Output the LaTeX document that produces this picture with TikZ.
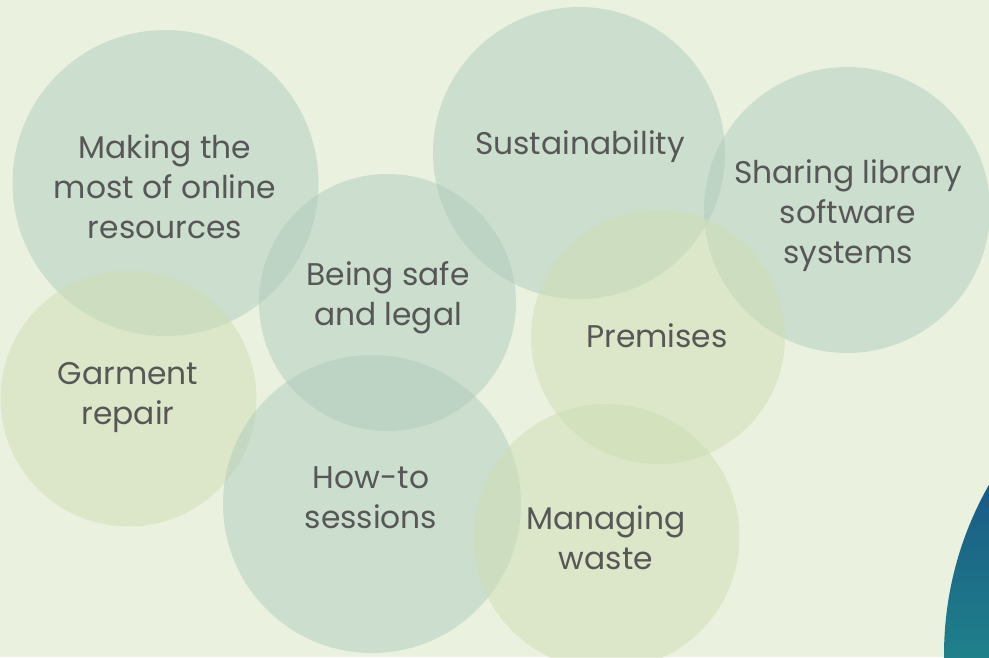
\documentclass[tikz,border=0pt]{standalone}
\usepackage{fontspec}
\setmainfont{Poppins}
\begin{document}
\begin{tikzpicture}[x=0.75pt,y=-0.75pt,
  bub/.style={circle,inner sep=0pt,outer sep=0pt,draw=none,fill opacity=0.5},
  grey/.style={bub,fill=bubgrey},
  yell/.style={bub,fill=bubyell},
  lbl/.style={text=txt,align=center,font=\fontsize{23.5}{30}\selectfont,inner sep=0pt}]
\definecolor{bg}{HTML}{EAF2DF}
\definecolor{bubgrey}{HTML}{B0CCBE}
\definecolor{bubyell}{HTML}{CEDDB3}
\definecolor{txt}{HTML}{575757}
\definecolor{tealtop}{HTML}{1A5986}
\definecolor{tealbot}{HTML}{1F818A}
\fill[bg] (0,0) rectangle (989,657);
\useasboundingbox (0,0) rectangle (989,657);
% circles
\node[grey,minimum size=306*0.75pt] (c1) at (165.5,183) {};
\node[grey,minimum size=292*0.75pt] (c3) at (579,153) {};
\node[grey,minimum size=286*0.75pt] (c4) at (847,210) {};
\node[yell,minimum size=256*0.75pt] (c6) at (128.5,398.5) {};
\node[grey,minimum size=257*0.75pt] (c2) at (387.5,302.5) {};
\node[yell,minimum size=254*0.75pt] (c5) at (658,337) {};
\node[grey,minimum size=298*0.75pt] (c7) at (372,504) {};
\node[yell,minimum size=266*0.75pt] (c8) at (606.5,537) {};
% teal shape
\coordinate (tc) at (1288,655);
\begin{scope}
\clip (tc) circle[radius=344*0.75pt];
\shade[top color=tealtop,bottom color=tealbot] (940,480) rectangle (989,657);
\end{scope}
% labels
\node[lbl] (t1) at (165,187) {Making the\\most of online\\resources};
\node[lbl] (t3) at (580,147) {Sustainability};
\node[lbl] (t4) at (848,216) {Sharing library\\software\\systems};
\node[lbl] (t2) at (388,298) {Being safe\\and legal};
\node[lbl] (t5) at (657,336) {Premises};
\node[lbl] (t6) at (128,398) {Garment\\repair};
\node[lbl] (t7) at (371,498) {How-to\\sessions};
\node[lbl] (t8) at (606,538) {Managing\\waste};
\end{tikzpicture}
\end{document}
